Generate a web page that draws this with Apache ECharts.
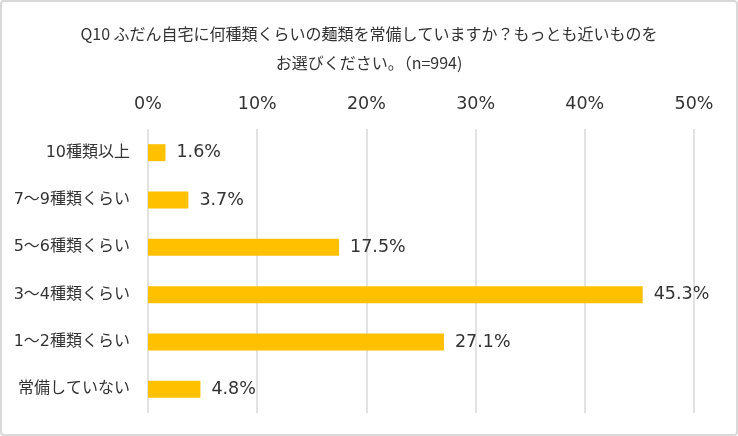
<!DOCTYPE html>
<html><head><meta charset="utf-8">
<script src="https://cdn.jsdelivr.net/npm/echarts@6/dist/echarts.min.js"></script>
<style>
html,body{margin:0;padding:0;background:#fff;}
#frame{position:absolute;left:0;top:0;width:734px;height:432px;border:2px solid #d9d9d9;border-radius:4px;background:#fff;}
#c{position:absolute;left:0;top:0;width:738px;height:436px;}
</style></head>
<body>
<div id="frame"></div>
<div id="c"></div>
<script>
const titleLines = ["Q10 ふだん自宅に何種類くらいの麺類を常備していますか？もっとも近いものを", "お選びください。（n=994)"];
const categories = ["10種類以上", "7～9種類くらい", "5～6種類くらい", "3～4種類くらい", "1～2種類くらい", "常備していない"];
const values = [1.6, 3.7, 17.5, 45.3, 27.1, 4.8];
const axisMin = 0, axisMax = 50, axisStep = 10;

const font = '"Noto Sans CJK JP", "Noto Sans", sans-serif';
const numFont = '"DejaVu Sans", "Noto Sans CJK JP", sans-serif';
const chart = echarts.init(document.getElementById('c'), null, {renderer: 'canvas'});
chart.setOption({
  animation: false,
  backgroundColor: 'transparent',
  title: {
    text: titleLines.join('\n'),
    left: 'center', top: 14,
    textStyle: {fontFamily: font, fontSize: 16, fontWeight: 'normal', color: '#333', lineHeight: 29}
  },
  grid: {left: 148, right: 44, top: 129, bottom: 23, containLabel: false},
  xAxis: {
    type: 'value', position: 'top', min: axisMin, max: axisMax, interval: axisStep,
    axisLine: {show: false}, axisTick: {show: false},
    axisLabel: {formatter: v => v + '%', fontFamily: numFont, fontSize: 17.5, color: '#333', margin: 16},
    splitLine: {show: true, lineStyle: {color: '#d9d9d9', width: 1.5}}
  },
  yAxis: {
    type: 'category', data: categories, inverse: true,
    axisLine: {show: false}, axisTick: {show: false},
    axisLabel: {fontFamily: numFont, fontSize: 16, color: '#333', margin: 18}
  },
  series: [{
    type: 'bar', data: values, barWidth: 17,
    itemStyle: {color: '#FFC000'},
    label: {show: true, position: 'right', distance: 11, formatter: p => p.value.toFixed(1) + '%',
      fontFamily: numFont, fontSize: 17.5, color: '#333'}
  }]
});
</script>
</body></html>
